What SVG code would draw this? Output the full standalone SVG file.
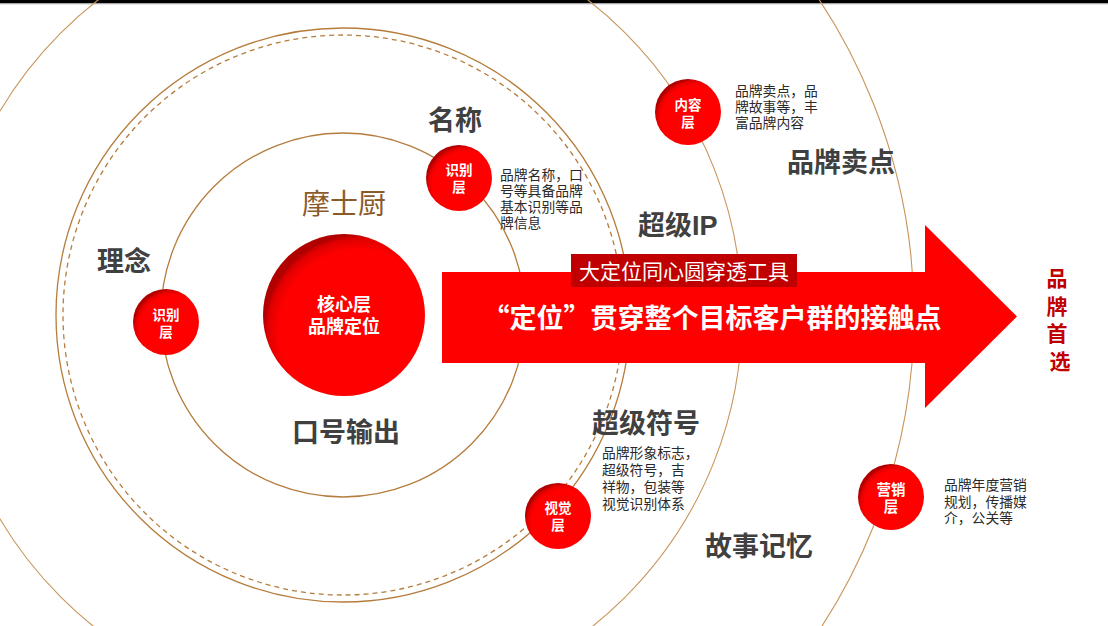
<svg xmlns="http://www.w3.org/2000/svg" width="1108" height="626" viewBox="0 0 1108 626">
<defs>
<radialGradient id="redball" cx="0.6" cy="0.6" r="0.6" fx="0.62" fy="0.62">
<stop offset="0" stop-color="#ff0000"/>
<stop offset="0.84" stop-color="#ff0000"/>
<stop offset="0.95" stop-color="#e00000"/>
<stop offset="1" stop-color="#b00000"/>
</radialGradient>
<style>
.ring{fill:none;stroke:#b57c3c;stroke-width:1.3}
.ring2{fill:none;stroke:#c8955c;stroke-width:1.1}
.dash{fill:none;stroke:#b57c3c;stroke-width:1.3;stroke-dasharray:5 4}
.ball{fill:url(#redball)}
.nt{font-family:"Liberation Sans","Noto Sans CJK SC",sans-serif;font-weight:bold;fill:#ffffff;text-anchor:middle;font-size:13.5px}
.big{font-family:"Liberation Sans","Noto Sans CJK SC",sans-serif;font-weight:bold;fill:#404040;font-size:27px}
.desc{font-family:"Liberation Sans","Noto Sans CJK SC",sans-serif;fill:#2a2a2a;font-size:13.8px}
</style>
</defs>
<rect x="0" y="0" width="1108" height="626" fill="#ffffff"/>
<rect x="0" y="0" width="1108" height="3.5" fill="#000000"/>
<line x1="0" y1="4" x2="1108" y2="4" stroke="#d0d0d0" stroke-width="1"/>

<g id="connectors">
<circle class="ring" cx="343" cy="315" r="182"/>
<circle class="dash" cx="343" cy="315" r="280"/>
<circle class="ring" cx="343" cy="315" r="287"/>
<circle class="ring2" cx="343" cy="315" r="399"/>
<circle class="ring2" cx="343" cy="315" r="571"/>
</g>

<g id="arrow">
<polygon points="442,272 925,272 925,225 1017,316.5 925,408 925,363 442,363" fill="#ff0000"/>
<rect x="571" y="254" width="226" height="33" fill="#c00000"/>
<text x="684" y="279" font-family="Liberation Sans,Noto Sans CJK SC,sans-serif" font-size="21" fill="#ffffff" text-anchor="middle">大定位同心圆穿透工具</text>
<text x="712" y="327.5" font-family="Liberation Sans,Noto Sans CJK SC,sans-serif" font-size="27" font-weight="bold" fill="#ffffff" text-anchor="middle"><tspan font-family="Noto Sans CJK SC,Liberation Sans,sans-serif">“</tspan>定位<tspan font-family="Noto Sans CJK SC,Liberation Sans,sans-serif">”</tspan>贯穿整个目标客户群的接触点</text>
</g>

<g id="core">
<circle class="ball" cx="344" cy="315" r="81"/>
<text class="nt" x="344" y="311" style="font-size:18px">核心层</text>
<text class="nt" x="344" y="333" style="font-size:18px">品牌定位</text>
</g>

<g id="node-left">
<circle class="ball" cx="166" cy="322" r="33"/>
<text class="nt" x="166" y="320">识别</text>
<text class="nt" x="166" y="337">层</text>
</g>

<g id="node-top">
<circle class="ball" cx="459" cy="178" r="33"/>
<text class="nt" x="459" y="175">识别</text>
<text class="nt" x="459" y="192">层</text>
</g>

<g id="node-content">
<circle class="ball" cx="688" cy="112" r="33"/>
<text class="nt" x="688" y="110">内容</text>
<text class="nt" x="688" y="127">层</text>
</g>

<g id="node-visual">
<circle class="ball" cx="558" cy="516" r="33"/>
<text class="nt" x="558" y="513">视觉</text>
<text class="nt" x="558" y="530">层</text>
</g>

<g id="node-marketing">
<circle class="ball" cx="891" cy="497" r="33"/>
<text class="nt" x="891" y="495" style="font-size:14.5px">营销</text>
<text class="nt" x="891" y="512" style="font-size:14.5px">层</text>
</g>

<g id="labels">
<text class="big" x="97" y="270.5">理念</text>
<text class="big" x="428" y="129.5">名称</text>
<text class="big" x="638" y="234.5">超级IP</text>
<text class="big" x="787" y="171.5">品牌卖点</text>
<text class="big" x="592" y="432.5">超级符号</text>
<text class="big" x="705" y="555.5">故事记忆</text>
<text class="big" x="292" y="441.5">口号输出</text>
<text x="302" y="214" font-family="Liberation Sans,Noto Sans CJK SC,sans-serif" font-size="28" fill="#8b5a2b">摩士厨</text>
</g>

<g id="brand-first">
<text font-family="Liberation Sans,Noto Sans CJK SC,sans-serif" font-size="21" font-weight="bold" fill="#c00000" text-anchor="middle">
<tspan x="1060" y="286">品</tspan>
<tspan x="1060" y="314">牌</tspan>
<tspan x="1060" y="341">首</tspan>
<tspan x="1060" y="369">选</tspan>
</text>
</g>

<g id="desc-name">
<text class="desc"><tspan x="500" y="180">品牌名称，口</tspan><tspan x="500" y="196">号等具备品牌</tspan><tspan x="500" y="212">基本识别等品</tspan><tspan x="500" y="228">牌信息</tspan></text>
</g>
<g id="desc-content">
<text class="desc"><tspan x="735" y="96">品牌卖点，品</tspan><tspan x="735" y="112">牌故事等，丰</tspan><tspan x="735" y="128">富品牌内容</tspan></text>
</g>
<g id="desc-visual">
<text class="desc"><tspan x="602" y="458">品牌形象标志，</tspan><tspan x="602" y="475">超级符号，吉</tspan><tspan x="602" y="492">祥物，包装等</tspan><tspan x="602" y="509">视觉识别体系</tspan></text>
</g>
<g id="desc-marketing">
<text class="desc"><tspan x="944" y="490">品牌年度营销</tspan><tspan x="944" y="507">规划，传播媒</tspan><tspan x="944" y="523">介，公关等</tspan></text>
</g>
</svg>
